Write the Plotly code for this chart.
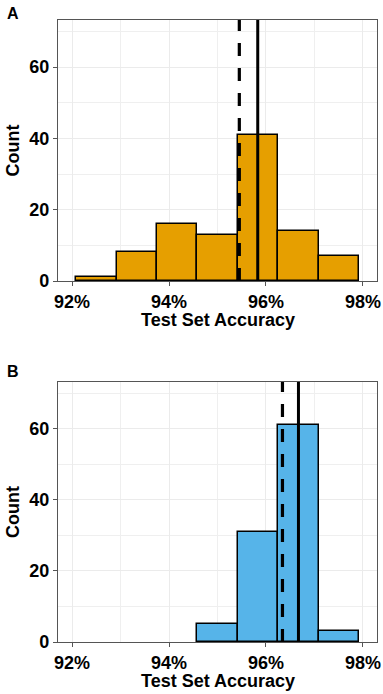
import plotly.graph_objects as go

# ---- data ----
bin_start = 92.0 + 1/12          # first bin edge (%)
bin_width = 5/6                  # bin width (%)
counts_a = [1, 8, 16, 13, 41, 14, 7]
counts_b = [0, 0, 0, 5, 31, 61, 3]
dashed_a, solid_a = 95.45, 95.83
dashed_b, solid_b = 96.34, 96.67
x_ticks = [92, 94, 96, 98]
y_ticks = [0, 20, 40, 60]
panel_labels = ["A", "B"]
x_title = "Test Set Accuracy"
y_title = "Count"

colors = ["#E69F00", "#56B4E9"]

centers = [bin_start + bin_width * (i + 0.5) for i in range(len(counts_a))]

FONT = "Liberation Sans, Arial, sans-serif"
W, H = 383, 694
ml, mr, mt, mb = 58, 6, 20, 52
ph = H - mt - mb

def ydom(top_px, bot_px):
    return [(H - mb - bot_px) / ph, (H - mb - top_px) / ph]

fig = go.Figure()

panels = [
    dict(counts=counts_a, color=colors[0], dashed=dashed_a, solid=solid_a,
         top=20, bot=281, label_y=13),
    dict(counts=counts_b, color=colors[1], dashed=dashed_b, solid=solid_b,
         top=382, bot=642, label_y=371),
]

for i, p in enumerate(panels):
    suffix = "" if i == 0 else "2"
    xs = [c for c, n in zip(centers, p["counts"]) if n > 0]
    ns = [n for n in p["counts"] if n > 0]
    fig.add_trace(go.Bar(
        x=xs, y=ns, width=bin_width, xaxis="x" + suffix, yaxis="y" + suffix,
        marker=dict(color=p["color"], line=dict(color="black", width=1.5)),
        showlegend=False, hoverinfo="x+y"))
    xref = "x" + suffix
    yref_dom = "y" + suffix + " domain"
    fig.add_shape(type="line", xref=xref, yref=yref_dom,
                  x0=p["dashed"], x1=p["dashed"], y0=0, y1=1,
                  line=dict(color="black", width=3.2, dash="13px,12px"),
                  layer="above")
    fig.add_shape(type="line", xref=xref, yref=yref_dom,
                  x0=p["solid"], x1=p["solid"], y0=0, y1=1,
                  line=dict(color="black", width=3),
                  layer="above")
    xax = dict(
        domain=[0, 1], range=[91.71, 98.29], anchor="y" + suffix,
        automargin=False,
        tickvals=x_ticks, ticktext=[f"{t}%" for t in x_ticks],
        showgrid=True, gridcolor="#EBEBEB", gridwidth=1.2,
        minor=dict(tickvals=[93, 95, 97], showgrid=True, gridcolor="#EFEFEF",
                   gridwidth=1, ticklen=0),
        zeroline=False, showline=True, mirror=True, linecolor="#555555",
        linewidth=1.3, ticks="outside", ticklen=4, tickcolor="#555555",
        tickwidth=1.2,
        tickfont=dict(family=FONT, size=18, color="black", weight="bold"),
    )
    yax = dict(
        domain=ydom(p["top"], p["bot"]), range=[0, 73.2], anchor="x" + suffix,
        automargin=False,
        tickvals=y_ticks,
        showgrid=True, gridcolor="#EBEBEB", gridwidth=1.2,
        minor=dict(tickvals=[10, 30, 50, 70], showgrid=True, gridcolor="#EFEFEF",
                   gridwidth=1, ticklen=0),
        zeroline=False, showline=True, mirror=True, linecolor="#555555",
        linewidth=1.3, ticks="outside", ticklen=4, tickcolor="#555555",
        tickwidth=1.2,
        tickfont=dict(family=FONT, size=18, color="black", weight="bold"),
    )
    fig.update_layout(**{"xaxis" + suffix: xax, "yaxis" + suffix: yax})

    # axis titles and panel labels
    fig.add_annotation(text=x_title, xref="paper", yref="paper",
                       x=0.5, y=(H - mb - (p["bot"] + 39)) / ph,
                       showarrow=False, xanchor="center", yanchor="middle",
                       font=dict(family=FONT, size=18, color="black", weight="bold"))
    fig.add_annotation(text=y_title, xref="paper", yref="paper",
                       x=(13 - ml) / (W - ml - mr),
                       y=(H - mb - (p["top"] + p["bot"]) / 2) / ph,
                       textangle=-90, showarrow=False,
                       xanchor="center", yanchor="middle",
                       font=dict(family=FONT, size=18, color="black", weight="bold"))
    fig.add_annotation(text=panel_labels[i], xref="paper", yref="paper",
                       x=(12.5 - ml) / (W - ml - mr),
                       y=(H - mb - p["label_y"]) / ph,
                       showarrow=False, xanchor="center", yanchor="middle",
                       font=dict(family=FONT, size=16, color="black", weight="bold"))

fig.update_layout(
    width=W, height=H,
    margin=dict(l=ml, r=mr, t=mt, b=mb, autoexpand=False),
    paper_bgcolor="white", plot_bgcolor="white",
    bargap=0, showlegend=False,
)

fig.write_html("out.html",
               config={"displayModeBar": False},
               post_script="document.body.style.margin='0';"
                           "document.body.style.overflow='hidden';")
